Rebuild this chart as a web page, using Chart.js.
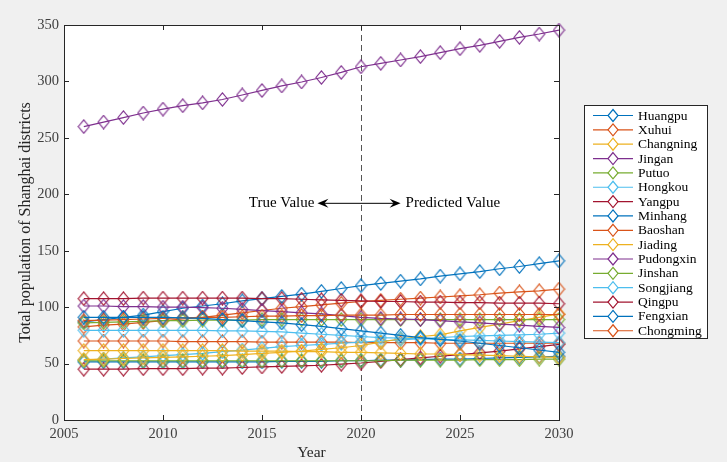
<!DOCTYPE html>
<html>
<head>
<meta charset="utf-8">
<script src="https://cdn.jsdelivr.net/npm/chart.js@4"></script>
<style>
  html, body { margin: 0; padding: 0; background: #f0f0f0; }
  #wrap { width: 727px; height: 462px; }
</style>
</head>
<body>
<div id="wrap"><canvas id="popChart" width="727" height="462"></canvas></div>
<script>
// years 2006..2030 (true values up to 2020, predicted after)
const years = [2006, 2007, 2008, 2009, 2010, 2011, 2012, 2013, 2014, 2015, 2016, 2017, 2018,
  2019, 2020, 2021, 2022, 2023, 2024, 2025, 2026, 2027, 2028, 2029, 2030];

const districts = ["Huangpu", "Xuhui", "Changning", "Jingan", "Putuo", "Hongkou", "Yangpu",
  "Minhang", "Baoshan", "Jiading", "Pudongxin", "Jinshan", "Songjiang", "Qingpu",
  "Fengxian", "Chongming"];

const huangpu = [91, 91, 91, 91, 91, 90.5, 90, 89, 88, 87, 86, 84.5, 83, 81, 79, 77, 75, 73, 71.5, 70, 68, 66, 64, 62, 60];
const xuhui = [88, 88.5, 89, 89.5, 90, 90.5, 91, 91, 91.5, 92, 92, 92.5, 92.5, 93, 93, 93, 93.5, 93.5, 93.5, 93.5, 93.5, 93.5, 93.5, 93.5, 93.5];
const changning = [61.5, 61.5, 61.5, 61.5, 61.5, 61.5, 61.5, 61.5, 61, 61, 61, 60.5, 60.5, 60, 60, 59.5, 59, 58.5, 58.5, 58, 57.5, 57, 56.5, 56, 55.5];
const jingan = [101, 101, 100.5, 100.5, 100, 100, 99.5, 99, 98, 97, 96, 95, 94, 92.5, 91, 90, 89.5, 89, 88, 87, 86, 85, 84, 83, 82];
const putuo = [86, 86.5, 87, 87.5, 88, 88, 88.5, 88.5, 88.5, 89, 89, 89, 89, 89, 89, 89, 89, 89, 89, 89, 89, 89, 89, 89, 89];
const hongkou = [79.5, 79.5, 79.5, 79.5, 79.5, 79.5, 79.5, 79, 79, 78.5, 78, 77, 76, 75, 74, 73, 72.5, 72, 71.5, 71, 70.5, 70, 69.5, 69, 68.5];
const yangpu = [107.5, 107.5, 107.5, 108, 108, 108, 108, 108, 108, 107.5, 107.5, 107, 106.5, 106, 105.5, 105, 105, 104.5, 104.5, 104, 104, 103.5, 103.5, 103.5, 103];
const minhang = [87, 89, 91, 93, 96, 99, 101, 103, 105.5, 107.5, 109.5, 111.5, 114, 116.5, 119, 121, 123, 125, 127.5, 129.5, 131.5, 134, 136, 138.5, 141];
const baoshan = [82.5, 84, 85, 86.5, 88, 89.5, 91, 93, 95, 97, 99, 100.5, 102, 103.5, 105, 106, 107, 108, 109, 110, 111, 112.5, 113.5, 114.5, 116];
const jiading = [53.5, 54, 54.5, 55, 55.5, 56, 56.5, 57, 58, 59, 60, 61, 62.5, 64, 66, 69, 72, 74, 75.5, 79, 82, 85, 88, 91, 94];
const pudongxin = [260, 264, 268, 272, 275.5, 278.5, 281, 284, 288, 292, 296, 299.5, 303.5, 308, 313, 316, 319, 322, 325.5, 329, 332, 335.5, 339, 342, 345.5];
const jinshan = [52.5, 52.5, 52.5, 52.5, 52.5, 52.5, 52.5, 52.5, 52.5, 52.5, 52.5, 52.5, 52.5, 52.5, 52.5, 52.5, 53, 53, 53, 53, 53.5, 53.5, 53.5, 54, 54];
const songjiang = [53, 54, 55, 56, 57, 58, 59, 60.5, 62, 63.5, 65, 66, 67, 68, 69, 70, 71, 72, 73, 74, 74.5, 75, 75.5, 76, 77];
const qingpu = [45, 45, 45, 45.5, 45.5, 45.5, 46, 46, 46.5, 47, 47.5, 48, 48.5, 49.5, 50.5, 52, 53.5, 55, 56.5, 58, 59.5, 61, 63, 65, 67];
const fengxian = [51.5, 51.5, 51.5, 51.5, 51.5, 51.5, 51.5, 51.5, 51.5, 51.5, 52, 52, 52, 52.5, 52.5, 53, 53, 53.5, 54, 54, 54.5, 55, 55.5, 56, 56.5];
const chongming = [70, 70, 70, 70, 70, 69.5, 69.5, 69.5, 69.5, 69, 69, 69, 69, 69, 68.5, 68.5, 68.5, 68.5, 68, 68, 68, 68, 68, 68, 68];

const xTicks = [2005, 2010, 2015, 2020, 2025, 2030];
const yTicks = [0, 50, 100, 150, 200, 250, 300, 350];
const splitYear = 2020;

const seriesValues = [huangpu, xuhui, changning, jingan, putuo, hongkou, yangpu, minhang,
  baoshan, jiading, pudongxin, jinshan, songjiang, qingpu, fengxian, chongming];

// matlab default colour order
const palette = ["#0072BD", "#D95319", "#EDB120", "#7E2F8E", "#77AC30", "#4DBEEE", "#A2142F"];

const FONT = "'Liberation Serif', 'DejaVu Serif', serif";

// matlab diamonds are a bit taller than wide
function diamondMarker(color) {
  const c = document.createElement("canvas");
  c.width = 13; c.height = 15;
  const g = c.getContext("2d");
  g.strokeStyle = color;
  g.lineWidth = 1.1;
  g.beginPath();
  g.moveTo(6.5, 0.8); g.lineTo(12, 7.5); g.lineTo(6.5, 14.2); g.lineTo(1, 7.5);
  g.closePath();
  g.stroke();
  return c;
}

const datasets = districts.map((name, i) => {
  const color = palette[i % palette.length];
  return {
    label: name,
    data: seriesValues[i].map((v, j) => ({ x: years[j], y: v })),
    borderColor: color,
    backgroundColor: "rgba(0,0,0,0)",
    borderWidth: 1.2,
    pointStyle: diamondMarker(color),
    pointRadius: 6,
    pointHoverRadius: 6,
    tension: 0,
    clip: false,
  };
});

const figurePlugin = {
  id: "figure",
  beforeDraw(chart) {
    const { ctx, chartArea: a } = chart;
    ctx.save();
    ctx.fillStyle = "#f0f0f0";
    ctx.fillRect(0, 0, chart.width, chart.height);
    ctx.fillStyle = "#ffffff";
    ctx.fillRect(a.left, a.top, a.right - a.left, a.bottom - a.top);
    ctx.restore();
  },
  beforeDatasetsDraw(chart) {
    const { ctx, chartArea: a, scales } = chart;
    const xs = scales.x;
    ctx.save();
    // dashed split line
    const xd = Math.round(xs.getPixelForValue(splitYear)) + 0.5;
    ctx.strokeStyle = "#555555";
    ctx.lineWidth = 1;
    ctx.setLineDash([6, 4]);
    ctx.beginPath();
    ctx.moveTo(xd, a.top);
    ctx.lineTo(xd, a.bottom);
    ctx.stroke();
    ctx.restore();
  },
  afterDatasetsDraw(chart) {
    const { ctx, chartArea: a, scales } = chart;
    const xs = scales.x, ys = scales.y;
    ctx.save();
    // box + inward ticks
    ctx.strokeStyle = "#262626";
    ctx.lineWidth = 1;
    ctx.strokeRect(Math.round(a.left) + 0.5, Math.round(a.top) + 0.5,
      Math.round(a.right - a.left), Math.round(a.bottom - a.top));
    ctx.beginPath();
    xTicks.forEach(t => {
      const px = Math.round(xs.getPixelForValue(t)) + 0.5;
      ctx.moveTo(px, a.bottom); ctx.lineTo(px, a.bottom - 5);
      ctx.moveTo(px, a.top); ctx.lineTo(px, a.top + 5);
    });
    yTicks.forEach(t => {
      const py = Math.round(ys.getPixelForValue(t)) + 0.5;
      ctx.moveTo(a.left, py); ctx.lineTo(a.left + 5, py);
      ctx.moveTo(a.right, py); ctx.lineTo(a.right - 5, py);
    });
    ctx.stroke();

    // true / predicted arrows
    const yArrow = ys.getPixelForValue(192);
    const xl = xs.getPixelForValue(2017.8);
    const xr = xs.getPixelForValue(2022.0);
    ctx.strokeStyle = "#000";
    ctx.fillStyle = "#000";
    ctx.beginPath();
    ctx.moveTo(xl + 6, yArrow); ctx.lineTo(xr - 6, yArrow);
    ctx.stroke();
    const head = (x, dir) => {
      ctx.beginPath();
      ctx.moveTo(x, yArrow);
      ctx.lineTo(x + dir * 11, yArrow - 4.5);
      ctx.lineTo(x + dir * 7, yArrow);
      ctx.lineTo(x + dir * 11, yArrow + 4.5);
      ctx.closePath();
      ctx.fill();
    };
    head(xl, 1);
    head(xr, -1);
    ctx.font = "15px " + FONT;
    ctx.textBaseline = "middle";
    ctx.textAlign = "right";
    ctx.fillText("True Value", xl - 3, yArrow);
    ctx.textAlign = "left";
    ctx.fillText("Predicted Value", xr + 5, yArrow);

    // legend box
    const lx = 584, ly = 105, lw = 123, lh = 233;
    ctx.fillStyle = "#ffffff";
    ctx.fillRect(lx, ly, lw, lh);
    ctx.strokeStyle = "#262626";
    ctx.strokeRect(lx + 0.5, ly + 0.5, lw, lh);
    ctx.font = "13.5px " + FONT;
    ctx.textAlign = "left";
    ctx.textBaseline = "middle";
    chart.data.datasets.forEach((ds, i) => {
      const yy = ly + 10.5 + i * 14.35;
      ctx.strokeStyle = ds.borderColor;
      ctx.lineWidth = 1.2;
      ctx.beginPath();
      ctx.moveTo(593, yy); ctx.lineTo(633, yy);
      ctx.stroke();
      ctx.beginPath();
      ctx.moveTo(613, yy - 6); ctx.lineTo(618, yy);
      ctx.lineTo(613, yy + 6); ctx.lineTo(608, yy);
      ctx.closePath();
      ctx.fillStyle = "#ffffff";
      ctx.fill();
      ctx.stroke();
      ctx.fillStyle = "#000";
      ctx.fillText(ds.label, 638, yy + 0.5);
    });
    ctx.restore();
  },
};

new Chart(document.getElementById("popChart"), {
  type: "line",
  data: { datasets },
  plugins: [figurePlugin],
  options: {
    responsive: false,
    animation: false,
    events: [],
    layout: { padding: { left: 0, right: 168, top: 25, bottom: 0 } },
    plugins: { legend: { display: false }, tooltip: { enabled: false } },
    scales: {
      x: {
        type: "linear",
        min: 2005,
        max: 2030,
        afterFit: s => { s.height = 42; },
        afterBuildTicks: s => { s.ticks = xTicks.map(v => ({ value: v })); },
        grid: { display: false, drawTicks: false },
        border: { display: false },
        ticks: { padding: 5, color: "#404040", font: { family: FONT, size: 14.5 }, callback: v => String(v), maxRotation: 0 },
        title: { display: true, text: "Year", color: "#262626", font: { family: FONT, size: 15.5 }, padding: { top: 0, bottom: 0 } },
      },
      y: {
        min: 0,
        max: 350,
        afterFit: s => { s.width = 64; },
        afterBuildTicks: s => { s.ticks = yTicks.map(v => ({ value: v })); },
        grid: { display: false, drawTicks: false },
        border: { display: false },
        ticks: { padding: 5, color: "#404040", font: { family: FONT, size: 14.5 }, callback: v => String(v) },
        title: { display: true, text: "Total population of Shanghai districts", color: "#262626", font: { family: FONT, size: 16 }, padding: { top: 16, bottom: 0 } },
      },
    },
  },
});
</script>
</body>
</html>
